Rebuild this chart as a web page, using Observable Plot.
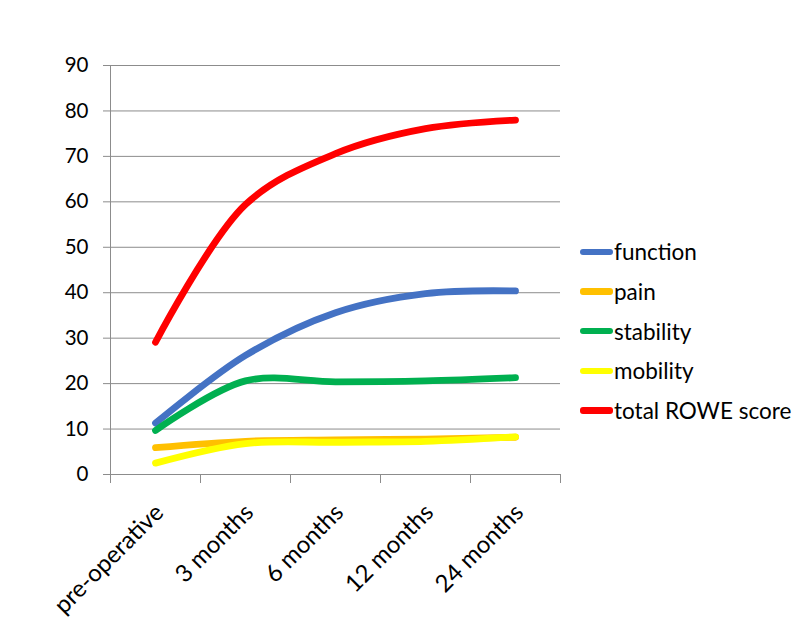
<!DOCTYPE html>
<html>
<head>
<meta charset="utf-8">
<script src="https://cdn.jsdelivr.net/npm/d3@7"></script>
<script src="https://cdn.jsdelivr.net/npm/@observablehq/plot@0.6"></script>
<style>
  html, body { margin: 0; padding: 0; background: #fff; }
  #wrap { position: relative; width: 811px; height: 623px; font-family: Lato, sans-serif; }
  #legend { position: absolute; left: 580px; top: 232px; font-size: 22.5px; color: #000; }
  .item { display: flex; align-items: center; height: 39.7px; }
  .sw { width: 33px; height: 6.5px; border-radius: 3px; margin-right: 1px; }
</style>
</head>
<body>
<div id="wrap"><div id="chart"></div><div id="legend"></div></div>
<script>
const categories = ["pre-operative", "3 months", "6 months", "12 months", "24 months"];
const seriesNames = ["function", "pain", "stability", "mobility", "total ROWE score"];
const colors = ["#4472C4", "#FFC000", "#00B050", "#FFFF00", "#FF0000"];
const functionValues = [11.3, 26.2, 35.6, 39.8, 40.4];
const painValues = [5.9, 7.3, 7.6, 7.8, 8.2];
const stabilityValues = [9.7, 20.6, 20.4, 20.6, 21.3];
const mobilityValues = [2.5, 6.8, 7.1, 7.3, 8.3];
const totalValues = [29.1, 59.4, 70.6, 76.1, 78.0];
const yTicks = [0, 10, 20, 30, 40, 50, 60, 70, 80, 90];

const allValues = [functionValues, painValues, stabilityValues, mobilityValues, totalValues];
const data = [];
seriesNames.forEach((s, si) => {
  allValues[si].forEach((v, i) => data.push({series: s, i, value: v}));
});
const catIdx = categories.map((c, i) => i);
const bounds = d3.range(categories.length + 1).map(i => i - 0.5);
const xMin = -0.5, xMax = categories.length - 0.5;

const plot = Plot.plot({
  width: 811,
  height: 623,
  marginLeft: 110,
  marginRight: 251,
  marginTop: 65,
  marginBottom: 149,
  style: {fontFamily: "Lato, sans-serif", fontSize: "20px", color: "#000", background: "#fff"},
  x: {type: "linear", domain: [xMin, xMax], axis: null},
  y: {type: "linear", domain: [0, 90], axis: null},
  color: {domain: seriesNames, range: colors},
  marks: [
    Plot.ruleY(yTicks, {x1: () => xMin, x2: () => xMax, y: d => d, stroke: "#8c8c8c", strokeWidth: 1, insetLeft: -7}),
    Plot.ruleX([xMin], {y1: () => 0, y2: () => 90, stroke: "#8c8c8c"}),
    Plot.ruleX(bounds, {x: d => d, y1: () => 0, y2: () => 0, stroke: "#8c8c8c", insetBottom: -9}),
    Plot.text(yTicks, {x: () => xMin, y: d => d, text: d => String(d), textAnchor: "end", dx: -22, fontSize: 20.5, fill: "#000"}),
    Plot.text(catIdx, {x: d => d, y: () => 0, text: d => categories[d], rotate: -45, textAnchor: "end", lineAnchor: "middle", dx: 4, dy: 34, fontSize: 24, fill: "#000"}),
    Plot.line(data, {x: "i", y: "value", z: "series", stroke: "series", strokeWidth: 6.8, curve: "catmull-rom", strokeLinecap: "round", strokeLinejoin: "round"})
  ]
});
document.getElementById("chart").appendChild(plot);

const legend = document.getElementById("legend");
seriesNames.forEach((s, i) => {
  const row = document.createElement("div");
  row.className = "item";
  const sw = document.createElement("div");
  sw.className = "sw";
  sw.style.background = colors[i];
  const t = document.createElement("span");
  t.textContent = s;
  row.appendChild(sw);
  row.appendChild(t);
  legend.appendChild(row);
});
</script>
</body>
</html>
